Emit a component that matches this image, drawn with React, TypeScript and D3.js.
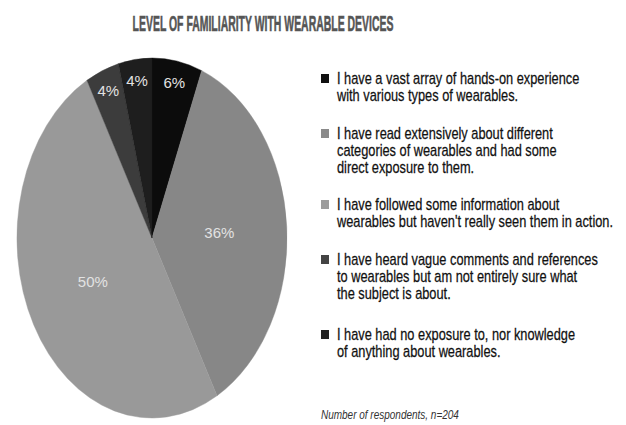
import React from "react";
import * as d3 from "d3";

const categories: string[][] = [
  ["I have a vast array of hands-on experience", "with various types of wearables."],
  ["I have read extensively about different", "categories of wearables and had some", "direct exposure to them."],
  ["I have followed some information about", "wearables but haven't really seen them in action."],
  ["I have heard vague comments and references", "to wearables but am not entirely sure what", "the subject is about."],
  ["I have had no exposure to, nor knowledge", "of anything about wearables."],
];
const values: number[] = [6, 36, 50, 4, 4];
const sliceLabels: string[] = ["6%", "36%", "50%", "4%", "4%"];
const title = "LEVEL OF FAMILIARITY WITH WEARABLE DEVICES";
const footnote = "Number of respondents, n=204";

const pieColors = ["#0c0c0c", "#878787", "#999999", "#3c3c3c", "#1e1e1e"];
const legendColors = ["#111111", "#8a8a8a", "#9c9c9c", "#444444", "#222222"];

const W = 626;
const H = 425;
const cx = 152;
const cy = 238;
const rx = 135;
const ry = 180;

const legendGroupY = [84, 139, 210, 265, 340];
const lineH = 17;
const sans = "'Liberation Sans', Arial, Helvetica, sans-serif";
const squeeze = 0.8;
const titleSqueeze = 0.475;

export default function App() {
  const pie = d3.pie<number>().sort(null).value((d) => d);
  const arcs = pie(values);
  const arc = d3.arc<d3.PieArcDatum<number>>().innerRadius(0).outerRadius(ry);

  return (
    <svg
      width={W}
      height={H}
      style={{ position: "absolute", left: 0, top: 0, background: "#fff" }}
    >
      <text
        transform={`translate(263,31) scale(${titleSqueeze},1)`}
        textAnchor="middle"
        fontFamily={sans}
        fontWeight="bold"
        fontSize={22}
        fill="#555"
        stroke="#555"
        strokeWidth={0.6}
      >
        {title}
      </text>
      <g transform={`translate(${cx},${cy}) scale(${rx / ry},1)`}>
        {arcs.map((a, i) => (
          <path key={i} d={arc(a) || ""} fill={pieColors[i]} stroke={pieColors[i]} strokeWidth={0.5} />
        ))}
      </g>
      {arcs.map((a, i) => {
        const mid = (a.startAngle + a.endAngle) / 2;
        const r = values[i] < 10 ? 0.88 : 0.5;
        const x = cx + rx * r * Math.sin(mid);
        const y = cy - ry * r * Math.cos(mid);
        return (
          <text
            key={i}
            x={x}
            y={y}
            dy="0.35em"
            textAnchor="middle"
            fontFamily={sans}
            fontSize={15}
            fill="#e2e2e2"
          >
            {sliceLabels[i]}
          </text>
        );
      })}
      {categories.map((lines, i) => (
        <g key={i}>
          <rect x={321} y={legendGroupY[i] - 10} width={8} height={9} fill={legendColors[i]} />
          {lines.map((ln, j) => (
            <text
              key={j}
              transform={`translate(337,${legendGroupY[i] + j * lineH}) scale(${squeeze},1)`}
              fontFamily={sans}
              fontSize={16}
              fill="#111"
              stroke="#111"
              strokeWidth={0.25}
            >
              {ln}
            </text>
          ))}
        </g>
      ))}
      <text
        transform={`translate(321,419) scale(${squeeze},1)`}
        fontFamily={sans}
        fontStyle="italic"
        fontSize={12.5}
        fill="#333"
      >
        {footnote}
      </text>
    </svg>
  );
}
